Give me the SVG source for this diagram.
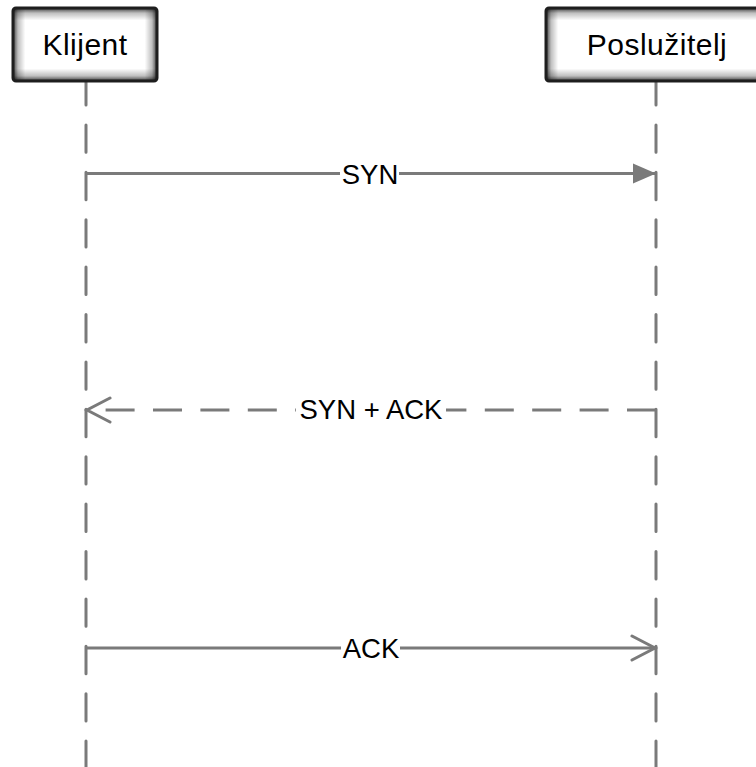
<svg xmlns="http://www.w3.org/2000/svg" width="756" height="767" viewBox="0 0 756 767">
  <style>
    .life { stroke: #7a7a7a; stroke-width: 3; fill: none; stroke-dasharray: 27.4 20; stroke-linecap: round; }
    .msg { stroke: #7a7a7a; stroke-width: 3; fill: none; }
    .dash { stroke-dasharray: 29 18.4; }
    .lbl { font-family: "Liberation Sans", Arial, sans-serif; font-size: 27.5px; fill: #000; text-anchor: middle; }
    .hdr { font-family: "Liberation Sans", Arial, sans-serif; font-size: 30px; fill: #000; text-anchor: middle; letter-spacing: 0.5px; }
    .boxbg { fill: #fff; }
    .boxbd { fill: none; stroke: #1e1e1e; stroke-width: 3; }
    .lblbg { fill: #fff; }
    .s0 { stop-color: #000; stop-opacity: 0.75; }
    .s1 { stop-color: #000; stop-opacity: 0.25; }
    .s2 { stop-color: #000; stop-opacity: 0; }
  </style>
  <defs>
    <linearGradient id="gv" gradientUnits="objectBoundingBox" x1="0" y1="0" x2="0" y2="1">
      <stop offset="0" class="s0"/><stop offset="0.07" class="s1"/><stop offset="0.17" class="s2"/>
      <stop offset="0.83" class="s2"/><stop offset="0.93" class="s1"/><stop offset="1" class="s0"/>
    </linearGradient>
    <linearGradient id="gh1" gradientUnits="objectBoundingBox" x1="0" y1="0" x2="1" y2="0">
      <stop offset="0" class="s0"/><stop offset="0.035" class="s1"/><stop offset="0.085" class="s2"/>
      <stop offset="0.915" class="s2"/><stop offset="0.965" class="s1"/><stop offset="1" class="s0"/>
    </linearGradient>
    <linearGradient id="gh2" gradientUnits="objectBoundingBox" x1="0" y1="0" x2="1" y2="0">
      <stop offset="0" class="s0"/><stop offset="0.023" class="s1"/><stop offset="0.055" class="s2"/>
      <stop offset="0.945" class="s2"/><stop offset="0.977" class="s1"/><stop offset="1" class="s0"/>
    </linearGradient>
    <marker id="filled" markerWidth="24" markerHeight="22" refX="23" refY="11" orient="auto" markerUnits="userSpaceOnUse">
      <path d="M0,1 L23,11 L0,21 Z" fill="#7a7a7a"/>
    </marker>
    <marker id="open" markerWidth="30" markerHeight="30" refX="25" refY="15" orient="auto" markerUnits="userSpaceOnUse">
      <path d="M2,3 L25,15 L2,27" fill="none" stroke="#7a7a7a" stroke-width="3" stroke-linecap="round"/>
    </marker>
  </defs>

  <g id="connectors">
    <line class="life" x1="86" y1="77.5" x2="86" y2="767"/>
    <line class="life" x1="656" y1="77.5" x2="656" y2="767"/>
    <line class="msg" x1="86" y1="173.5" x2="656" y2="173.5" marker-end="url(#filled)"/>
    <line class="msg dash" x1="656" y1="410" x2="87" y2="410" marker-end="url(#open)"/>
    <line class="msg" x1="86" y1="648" x2="655" y2="648" marker-end="url(#open)"/>
    <g id="label-syn">
      <rect class="lblbg" x="340" y="160" width="59" height="27"/>
      <text class="lbl" x="370" y="183.5">SYN</text>
    </g>
    <g id="label-synack">
      <rect class="lblbg" x="296" y="396" width="150" height="27"/>
      <text class="lbl" x="371" y="419">SYN + ACK</text>
    </g>
    <g id="label-ack">
      <rect class="lblbg" x="341" y="634" width="59" height="27"/>
      <text class="lbl" x="371" y="658">ACK</text>
    </g>
  </g>

  <g id="node-klijent">
    <rect class="boxbg" x="13" y="8" width="144" height="73" rx="3"/>
    <rect x="13" y="8" width="144" height="73" rx="3" fill="url(#gv)"/>
    <rect x="13" y="8" width="144" height="73" rx="3" fill="url(#gh1)"/>
    <rect class="boxbd" x="13" y="8" width="144" height="73" rx="3"/>
    <text class="hdr" x="85" y="55">Klijent</text>
  </g>

  <g id="node-posluzitelj">
    <rect class="boxbg" x="546" y="8" width="222" height="73" rx="3"/>
    <rect x="546" y="8" width="222" height="73" rx="3" fill="url(#gv)"/>
    <rect x="546" y="8" width="222" height="73" rx="3" fill="url(#gh2)"/>
    <rect class="boxbd" x="546" y="8" width="222" height="73" rx="3"/>
    <text class="hdr" x="657" y="55">Poslužitelj</text>
  </g>
</svg>
